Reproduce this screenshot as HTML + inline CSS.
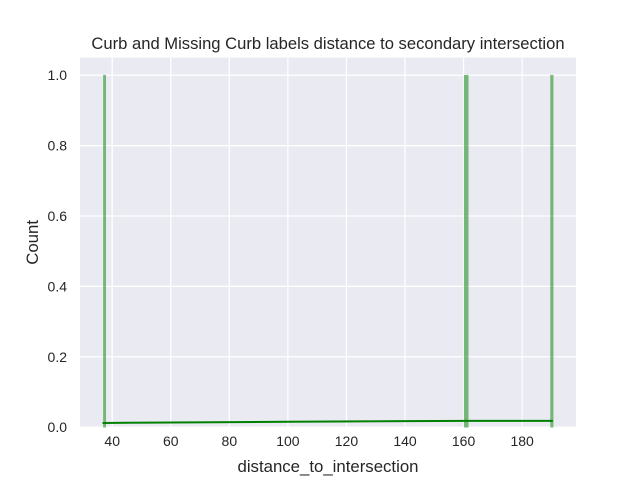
<!DOCTYPE html>
<html><head><meta charset="utf-8"><style>
body{margin:0;background:#fff;font-family:"Liberation Sans","DejaVu Sans",sans-serif}
</style></head><body>
<svg id="c" width="640" height="480" xmlns="http://www.w3.org/2000/svg" font-family="Liberation Sans, DejaVu Sans, sans-serif"></svg>
<script>
const barLeft=[37.0,160.2,189.7];
const barRight=[37.8,161.6,190.6];
const barCounts=[1,1,1];
const kdeX=[36.7,60,100,140,161,175,190.5];
const kdeY=[0.012,0.0135,0.0155,0.0172,0.018,0.018,0.018];
const xTicks=[40,60,80,100,120,140,160,180];
const yTicks=[0,0.2,0.4,0.6,0.8,1.0];
const L=80,R=576,T=57.6,B=427.2,xmin=29.0,xmax=198.4,ymax=1.05;
const sx=v=>L+(v-xmin)/(xmax-xmin)*(R-L);
const sy=v=>B-v/ymax*(B-T);
const svg=document.getElementById('c');
const NS='http://www.w3.org/2000/svg';
function mk(tag,attrs,parent){const e=document.createElementNS(NS,tag);for(const k in attrs)e.setAttribute(k,attrs[k]);(parent||svg).appendChild(e);return e;}
let bg=mk('rect',{x:L,y:T,width:R-L,height:B-T,fill:'#eaeaf2'});


xTicks.forEach(t=>{
 let g=mk('line',{x1:sx(t),x2:sx(t),y1:T,y2:B,stroke:'#fff','stroke-width':1.25});
 
 
 let l=mk('text',{x:sx(t),y:B+19,'text-anchor':'middle','font-size':14,fill:'#262626'});l.textContent=t;
 
 
});
yTicks.forEach(t=>{
 let g=mk('line',{x1:L,x2:R,y1:sy(t),y2:sy(t),stroke:'#fff','stroke-width':1.25});
 
 
 let l=mk('text',{x:L-13,y:sy(t)+5,'text-anchor':'end','font-size':14,fill:'#262626'});l.textContent=t.toFixed(1);
 
 
});
barCounts.forEach((c,i)=>{
 let b=mk('rect',{x:sx(barLeft[i]),y:sy(c),width:sx(barRight[i])-sx(barLeft[i]),height:sy(0)-sy(c),fill:'#008000','fill-opacity':0.5,stroke:'#6fb76f','stroke-width':0.5});
 
 
});
let p=mk('polyline',{points:kdeX.map((x,i)=>sx(x)+','+sy(kdeY[i])).join(' '),fill:'none',stroke:'#008000','stroke-width':2});


let tt=mk('text',{x:(L+R)/2,y:49,'text-anchor':'middle','font-size':16.6,fill:'#262626'});tt.textContent='Curb and Missing Curb labels distance to secondary intersection';


let xt=mk('text',{x:(L+R)/2,y:472,'text-anchor':'middle','font-size':16.8,fill:'#262626'});xt.textContent='distance_to_intersection';


let yt=mk('text',{x:38,y:(T+B)/2,'text-anchor':'middle','font-size':16.8,fill:'#262626',transform:'rotate(-90 38 '+((T+B)/2)+')'});yt.textContent='Count';


</script>
</body></html>
